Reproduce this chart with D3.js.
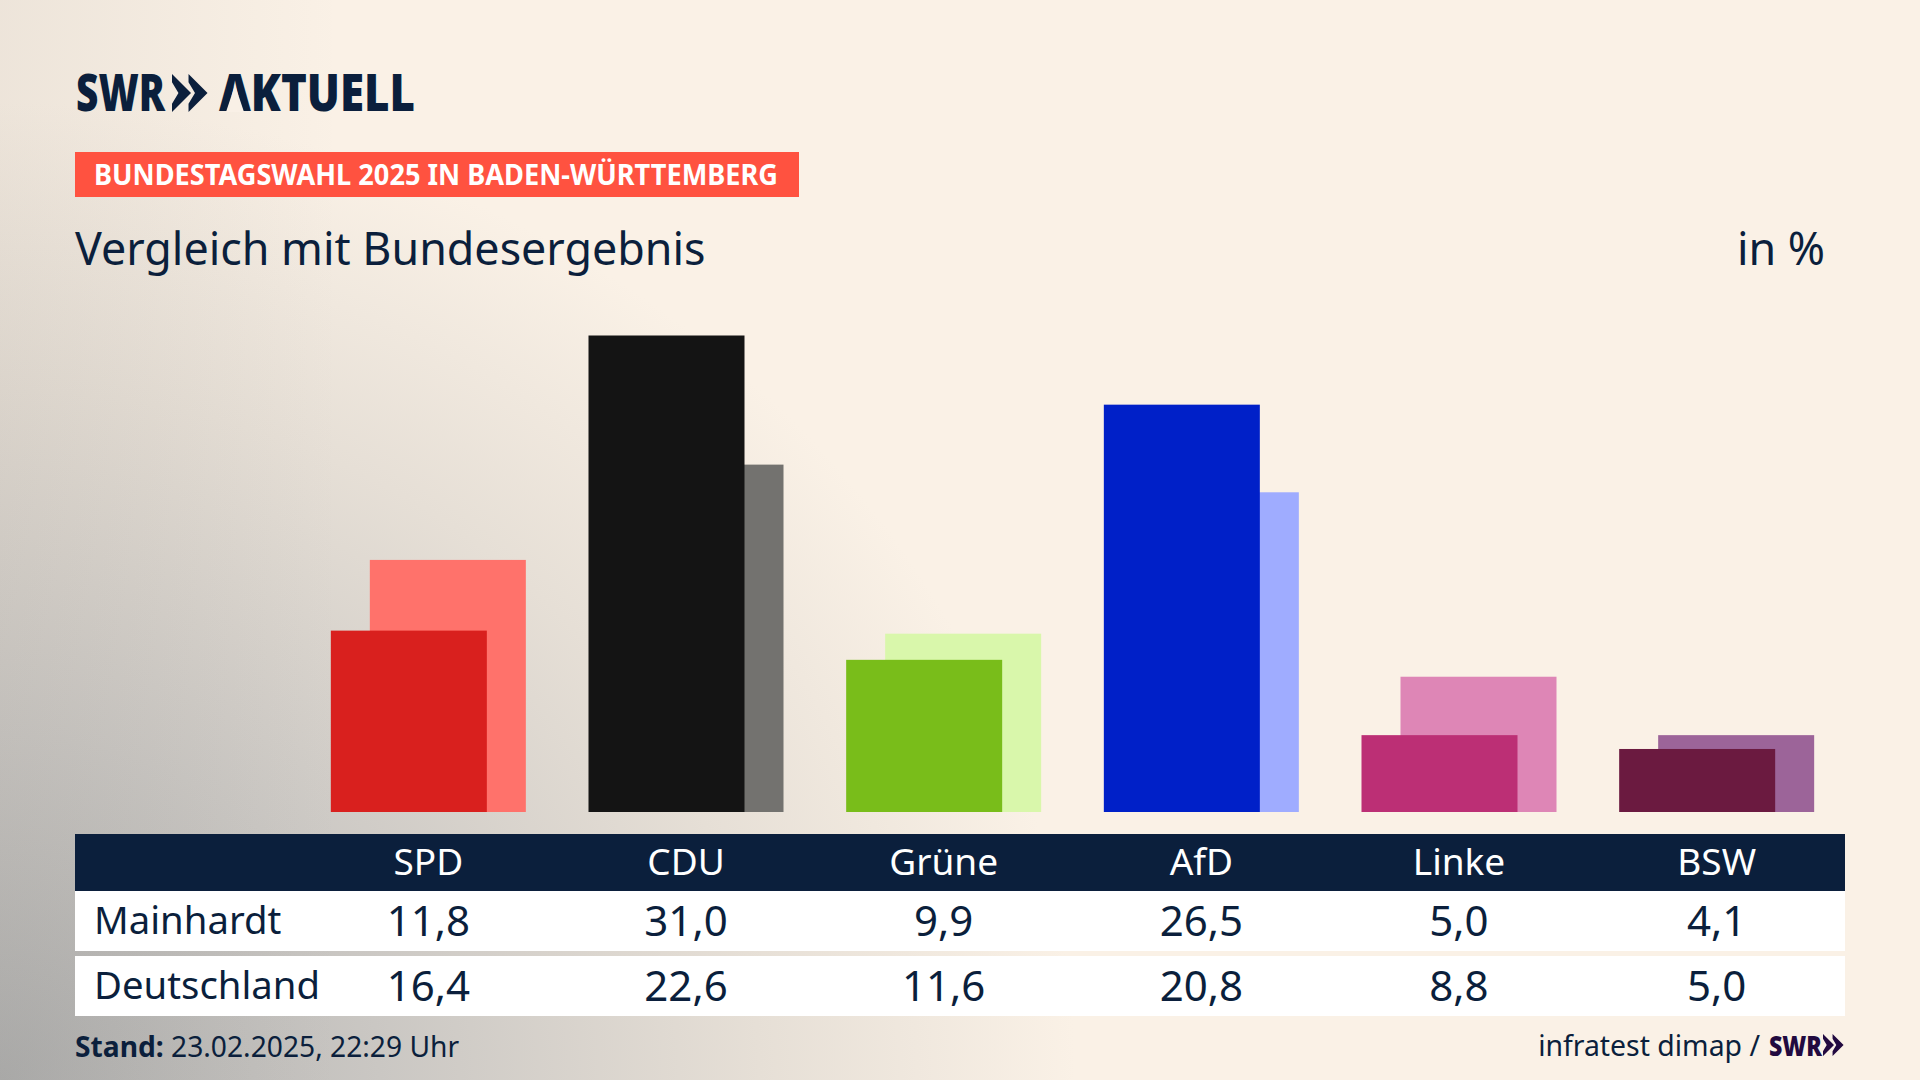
<!DOCTYPE html>
<html>
<head>
<meta charset="utf-8">
<script src="https://cdn.jsdelivr.net/npm/d3@7"></script>
<style>
html, body { margin: 0; padding: 0; background: #faf1e6; }
svg { display: block; }
text { font-family: "Noto Sans", sans-serif; fill: #0b1f3c; }
</style>
</head>
<body>
<svg id="chart" width="1920" height="1080"></svg>
<script>
// data
const parties = ['SPD', 'CDU', 'Grüne', 'AfD', 'Linke', 'BSW'];
const mainhardt = [11.8, 31.0, 9.9, 26.5, 5.0, 4.1];
const deutschland = [16.4, 22.6, 11.6, 20.8, 8.8, 5.0];
const darkColors = ['#d9201e', '#141414', '#79bd1a', '#0020c8', '#bc2f75', '#6b1a40'];
const lightColors = ['#ff726b', '#73726f', '#d9f7ab', '#9facff', '#de86b6', '#9c6499'];

const svg = d3.select('#chart');
const fmt = v => v.toFixed(1).replace('.', ',');
const navy = '#0b1f3c';

// background: grey glow from the lower left corner
const defs = svg.append('defs');
const grad = defs.append('radialGradient').attr('id', 'bg')
    .attr('gradientUnits', 'userSpaceOnUse')
    .attr('gradientTransform', 'translate(0,1080) scale(1.1,1)')
    .attr('cx', 0).attr('cy', 0).attr('r', 1150);
[[0, '#afafae'], [0.3, '#cac7c3'], [0.6, '#e6dfd6'], [0.85, '#faf1e6'], [1, '#faf1e6']]
    .forEach(s => grad.append('stop').attr('offset', s[0]).attr('stop-color', s[1]));
const edge = defs.append('linearGradient').attr('id', 'edge');
edge.append('stop').attr('offset', 0).attr('stop-color', '#6b6660').attr('stop-opacity', 0.09);
edge.append('stop').attr('offset', 1).attr('stop-color', '#6b6660').attr('stop-opacity', 0);
svg.append('rect').attr('width', 1920).attr('height', 1080).attr('fill', 'url(#bg)');
svg.append('rect').attr('width', 340).attr('height', 1080).attr('fill', 'url(#edge)');

// scales
const x = d3.scaleBand().domain(parties).range([299.5, 1845.5]);
const y = d3.scaleLinear().domain([0, 31]).range([812, 335.5]);
const barW = 156, shift = 39;
const cx = p => x(p) + x.bandwidth() / 2;

// bars, Deutschland behind
svg.append('g').selectAll('rect').data(parties).join('rect')
    .attr('x', p => cx(p) - barW / 2 + shift / 2)
    .attr('y', (p, i) => y(deutschland[i]))
    .attr('width', barW)
    .attr('height', (p, i) => y(0) - y(deutschland[i]))
    .attr('fill', (p, i) => lightColors[i]);
svg.append('g').selectAll('rect').data(parties).join('rect')
    .attr('x', p => cx(p) - barW / 2 - shift / 2)
    .attr('y', (p, i) => y(mainhardt[i]))
    .attr('width', barW)
    .attr('height', (p, i) => y(0) - y(mainhardt[i]))
    .attr('fill', (p, i) => darkColors[i]);

// table
svg.append('rect').attr('x', 75).attr('y', 834).attr('width', 1770).attr('height', 57).attr('fill', navy);
svg.append('rect').attr('x', 75).attr('y', 891).attr('width', 1770).attr('height', 60).attr('fill', '#fff');
svg.append('rect').attr('x', 75).attr('y', 956).attr('width', 1770).attr('height', 60).attr('fill', '#fff');

svg.append('g').selectAll('text').data(parties).join('text')
    .attr('x', cx).attr('y', 875).attr('text-anchor', 'middle')
    .attr('font-size', 37).style('fill', '#fff').text(d => d);

const rows = [['Mainhardt', mainhardt, 936], ['Deutschland', deutschland, 1001]];
rows.forEach(([name, vals, base]) => {
    svg.append('text').attr('x', 94).attr('y', base - 2).attr('font-size', 38.3).text(name);
    svg.append('g').selectAll('text').data(vals).join('text')
        .attr('x', (d, i) => cx(parties[i])).attr('y', base)
        .attr('text-anchor', 'middle').attr('font-size', 42).text(fmt);
});

// SWR chevrons, used in the logo and the source line
function chevrons(px, py, w, h, fill) {
    const shape = [[0, 0], [w, h / 2], [0, h], [0, h * 0.78], [w * 0.34, h / 2], [0, h * 0.22]];
    [0, w * 0.87].forEach(dx => {
        svg.append('polygon')
            .attr('points', shape.map(p => [px + dx + p[0], py + p[1]].join(',')).join(' '))
            .attr('fill', fill);
    });
}

// header
svg.append('text').attr('x', 76).attr('y', 111).attr('font-size', 52).attr('font-weight', 900)
    .attr('textLength', 89).attr('lengthAdjust', 'spacingAndGlyphs').text('SWR');
chevrons(172, 74, 19, 38, navy);
svg.append('text').attr('x', 219).attr('y', 111).attr('font-size', 52).attr('font-weight', 900)
    .attr('textLength', 196).attr('lengthAdjust', 'spacingAndGlyphs').text('AKTUELL');
// the logo's A has no crossbar
svg.append('polygon').attr('points', '235,85 226,112 244,112').attr('fill', '#f9f0e6');
svg.append('rect').attr('x', 75).attr('y', 152).attr('width', 724).attr('height', 45).attr('fill', '#ff5240');
svg.append('text').attr('x', 94).attr('y', 185).attr('font-size', 28).attr('font-weight', 700)
    .attr('textLength', 684).attr('lengthAdjust', 'spacingAndGlyphs')
    .style('fill', '#fff').text('BUNDESTAGSWAHL 2025 IN BADEN-WÜRTTEMBERG');
svg.append('text').attr('x', 75).attr('y', 265).attr('font-size', 44.8).text('Vergleich mit Bundesergebnis');
svg.append('text').attr('x', 1825).attr('y', 265).attr('font-size', 44.8).attr('text-anchor', 'end').text('in %');

// footer
const st = svg.append('text').attr('x', 75).attr('y', 1057).attr('font-size', 28.2);
st.append('tspan').attr('font-weight', 700).text('Stand:');
st.append('tspan').text(' 23.02.2025, 22:29 Uhr');
svg.append('text').attr('x', 1760).attr('y', 1056).attr('font-size', 28.4).attr('text-anchor', 'end').text('infratest dimap /');
svg.append('text').attr('x', 1769).attr('y', 1056).attr('font-size', 29).attr('font-weight', 900)
    .attr('textLength', 53).attr('lengthAdjust', 'spacingAndGlyphs')
    .style('fill', '#220a40').text('SWR');
chevrons(1823, 1034, 11, 22, '#220a40');
</script>
</body>
</html>
